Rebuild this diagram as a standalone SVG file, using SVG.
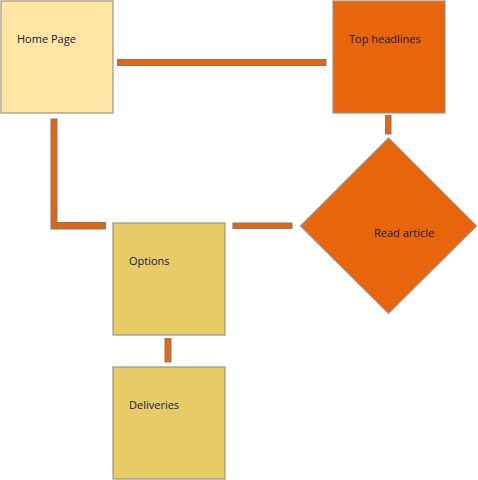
<svg xmlns="http://www.w3.org/2000/svg" width="478" height="480" viewBox="0 0 478 480">
<style>
.node{stroke:#9a9484;stroke-width:1.2}
.home{fill:#FFE5A3}
.orange{fill:#E8650C}
.gold{fill:#E7CB67}
.conn{fill:#E8650C;stroke:#7a7a7a;stroke-width:1}
text{font-family:"Open Sans","Noto Sans",sans-serif;font-size:11px;fill:#141846}
</style>
<rect width="478" height="480" fill="#fff"/>
<g id="connectors">
<rect class="conn" x="117.5" y="59.5" width="208.5" height="6"/>
<rect class="conn" x="385.5" y="115.5" width="5.5" height="18.5"/>
<rect class="conn" x="233" y="223" width="59" height="5.5"/>
<rect class="conn" x="165" y="338.5" width="6" height="23.5"/>
<rect class="conn" x="51" y="119" width="6" height="110"/>
<rect class="conn" x="57" y="222.5" width="48.5" height="6.5"/>
</g>
<g id="home-page">
<rect class="node home" x="1" y="1" width="112" height="112"/>
<text x="17" y="43">Home Page</text>
</g>
<g id="top-headlines">
<rect class="node orange" x="333" y="1" width="112" height="112"/>
<text x="349" y="43">Top headlines</text>
</g>
<g id="read-article">
<polygon class="node orange" points="388.5,138 476.5,226 388.5,313.5 300.5,226"/>
<text x="374" y="237">Read article</text>
</g>
<g id="options">
<rect class="node gold" x="113" y="223" width="112" height="112"/>
<text x="129" y="265">Options</text>
</g>
<g id="deliveries">
<rect class="node gold" x="113" y="367" width="112" height="112"/>
<text x="129" y="409">Deliveries</text>
</g>
</svg>
